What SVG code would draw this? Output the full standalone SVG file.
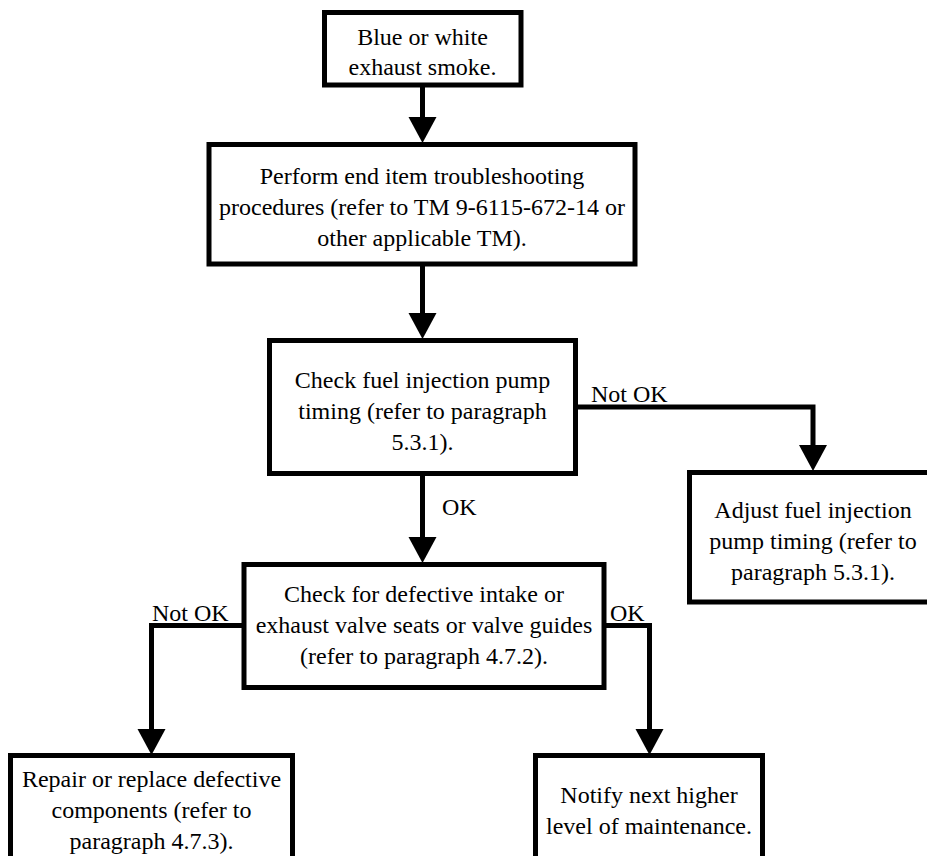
<svg xmlns="http://www.w3.org/2000/svg" width="927" height="856" viewBox="0 0 927 856">
<style>
  .box { fill: #ffffff; stroke: #000000; stroke-width: 5; }
  .conn { fill: none; stroke: #000000; stroke-width: 5; }
  text { font-family: "Liberation Serif", "Times New Roman", serif; font-size: 24px; fill: #000000; }
  .c { text-anchor: middle; }
</style>
<defs>
  <marker id="arrow" markerUnits="userSpaceOnUse" markerWidth="28" markerHeight="28" refX="0" refY="14" orient="auto" overflow="visible">
    <path d="M0,0 L26,14 L0,28 Z" fill="#000000"/>
  </marker>
</defs>
<rect width="927" height="856" fill="#ffffff"/>
<g id="connectors">
  <path class="conn" d="M422.5,86 L422.5,117" marker-end="url(#arrow)"/>
  <path class="conn" d="M422.5,265 L422.5,313" marker-end="url(#arrow)"/>
  <path class="conn" d="M577,407 L813,407 L813,445" marker-end="url(#arrow)"/>
  <path class="conn" d="M422.5,475 L422.5,537" marker-end="url(#arrow)"/>
  <path class="conn" d="M243,625.5 L151.5,625.5 L151.5,729" marker-end="url(#arrow)"/>
  <path class="conn" d="M604,625.5 L649.5,625.5 L649.5,729" marker-end="url(#arrow)"/>
  <text x="591" y="402">Not OK</text>
  <text x="442" y="515">OK</text>
  <text x="152" y="621">Not OK</text>
  <text x="610" y="621">OK</text>
</g>
<g id="n1">
  <rect class="box" x="324.5" y="12.5" width="196.5" height="72.5"/>
  <text class="c" x="422.5" y="45">Blue or white</text>
  <text class="c" x="422.5" y="75">exhaust smoke.</text>
</g>
<g id="n2">
  <rect class="box" x="209" y="144.5" width="426" height="119.5"/>
  <text class="c" x="422" y="184">Perform end item troubleshooting</text>
  <text class="c" x="422" y="215">procedures (refer to TM 9-6115-672-14 or</text>
  <text class="c" x="422" y="246">other applicable TM).</text>
</g>
<g id="n3">
  <rect class="box" x="269.5" y="340.5" width="306" height="133"/>
  <text class="c" x="422.5" y="388">Check fuel injection pump</text>
  <text class="c" x="422.5" y="419">timing (refer to paragraph</text>
  <text class="c" x="422.5" y="450">5.3.1).</text>
</g>
<g id="n4">
  <rect class="box" x="689.5" y="472.5" width="247" height="129.5"/>
  <text class="c" x="813" y="518">Adjust fuel injection</text>
  <text class="c" x="813" y="549">pump timing (refer to</text>
  <text class="c" x="813" y="580">paragraph 5.3.1).</text>
</g>
<g id="n5">
  <rect class="box" x="244" y="564.5" width="360" height="123"/>
  <text class="c" x="424" y="602">Check for defective intake or</text>
  <text class="c" x="424" y="633">exhaust valve seats or valve guides</text>
  <text class="c" x="424" y="664">(refer to paragraph 4.7.2).</text>
</g>
<g id="n6">
  <rect class="box" x="10.5" y="755.5" width="282" height="200"/>
  <text class="c" x="151.5" y="787">Repair or replace defective</text>
  <text class="c" x="151.5" y="818">components (refer to</text>
  <text class="c" x="151.5" y="849">paragraph 4.7.3).</text>
</g>
<g id="n7">
  <rect class="box" x="535.5" y="755.5" width="227" height="200"/>
  <text class="c" x="649" y="803">Notify next higher</text>
  <text class="c" x="649" y="834">level of maintenance.</text>
</g>
</svg>
